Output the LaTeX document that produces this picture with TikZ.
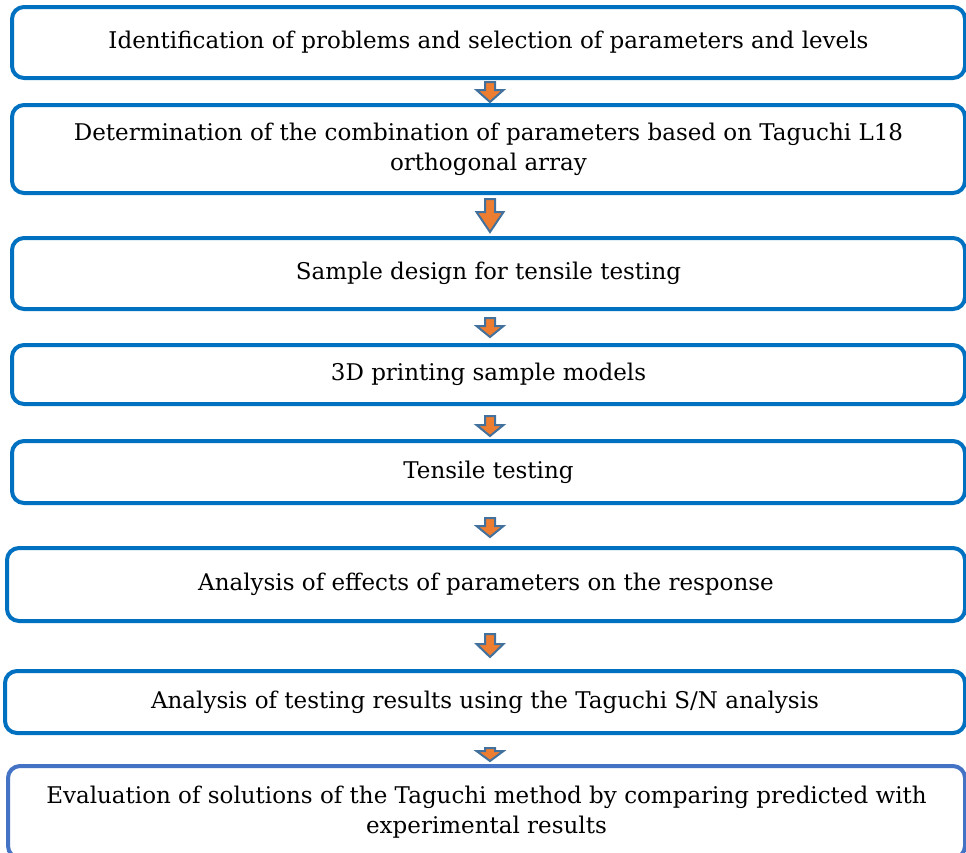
\documentclass[tikz,border=0pt]{standalone}
\usepackage{fontspec}
\setmainfont{DejaVu Serif}
\usetikzlibrary{calc,positioning}
\definecolor{stepblue}{RGB}{0,112,192}
\definecolor{lastblue}{RGB}{68,114,196}
\definecolor{arroworange}{RGB}{237,125,49}
\definecolor{arrowline}{RGB}{65,113,156}

% block arrow from box #1 down to box #2: gap below #1, gap above #2, head length
\newcommand{\flowarrow}[5]{%
  \coordinate (top) at ($(axis |- #1.south)+(0,#3)$);
  \coordinate (tip) at ($(axis |- #2.north)+(0,-#4)$);
  \draw[blockarrow] ($(top)+(-5,0)$) -- ($(top)+(5,0)$) -- ($(tip)+(5,-#5)$) -- ($(tip)+(13.5,-#5)$)
    -- (tip) -- ($(tip)+(-13.5,-#5)$) -- ($(tip)+(-5,-#5)$) -- cycle;
}

\begin{document}
\begin{tikzpicture}[x=1pt, y=-1pt,
  stepbox/.style={rectangle, draw=stepblue, line width=4pt, rounded corners=12pt, fill=white, align=center, inner sep=0pt, font=\fontsize{23}{30}\selectfont},
  blockarrow/.style={draw=arrowline, fill=arroworange, line width=2pt, line join=miter}
]
\useasboundingbox (0,0) rectangle (966,852);
\coordinate (axis) at (490,0);

% Steps
\node[stepbox, minimum width=953pt, minimum height=71pt] (b1) at (488.5,42.5) {Identification of problems and selection of parameters and levels};
\node[stepbox, minimum width=953pt, minimum height=88pt] (b2) at (488.5,149) {Determination of the combination of parameters based on Taguchi L18\\orthogonal array};
\node[stepbox, minimum width=953pt, minimum height=71pt] (b3) at (488.5,273.5) {Sample design for tensile testing};
\node[stepbox, minimum width=953pt, minimum height=59pt] (b4) at (488.5,374.5) {3D printing sample models};
\node[stepbox, minimum width=953pt, minimum height=62pt] (b5) at (488.5,472) {Tensile testing};
\node[stepbox, minimum width=958pt, minimum height=73pt] (b6) at (486,584.5) {Analysis of effects of parameters on the response};
\node[stepbox, minimum width=960pt, minimum height=62pt] (b7) at (485,702) {Analysis of testing results using the Taguchi S/N analysis};
\node[stepbox, draw=lastblue, minimum width=957pt, minimum height=92pt] (b8) at (486.5,812) {Evaluation of solutions of the Taguchi method by comparing predicted with\\experimental results};

% Arrows between steps
\flowarrow{b1}{b2}{2}{1}{12}
\flowarrow{b2}{b3}{4}{4}{20}
\flowarrow{b3}{b4}{7}{6}{11}
\flowarrow{b4}{b5}{10}{3}{11}
\flowarrow{b5}{b6}{13}{9}{11}
\flowarrow{b6}{b7}{11}{12}{13}
\flowarrow{b7}{b8}{13}{3}{10}

\end{tikzpicture}
\end{document}
